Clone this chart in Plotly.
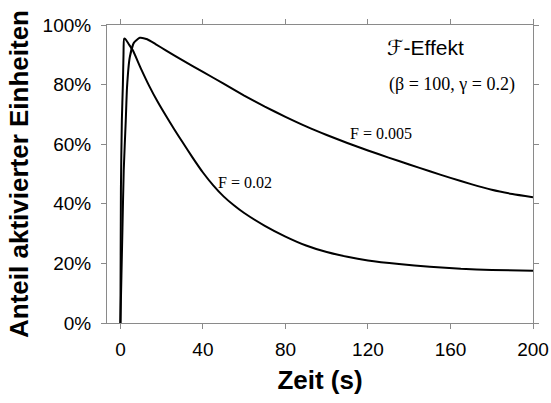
import plotly.graph_objects as go

# Data (time in s, share in %)
t_f002 = [0, 0.25, 0.7, 1.2, 1.5, 1.8, 2.4, 4, 6, 10, 14, 18, 22, 26, 30, 35, 40, 45, 50, 55, 60, 70,
          80, 90, 100, 110, 120, 135, 150, 165, 180, 200]
y_f002 = [0, 45, 68, 80, 90, 95.4, 95.3, 93.6, 91.5, 85.3, 79.5, 74.3, 69.6, 65.1, 60.8, 55.5, 50.5, 46.2,
          42.5, 39.5, 36.9, 32.6, 29.0, 26.0, 23.8, 22.2, 21.0, 19.8, 18.9, 18.2, 17.8, 17.5]

t_f0005 = [0, 0.5, 1.0, 1.6, 2.6, 3.2, 4.5, 6.5, 9.4, 13, 17, 22, 30, 40, 50, 60, 70, 80, 90, 100, 110,
           120, 130, 140, 150, 160, 170, 180, 190, 200]
y_f0005 = [0, 16, 32, 51, 68, 79, 89, 94, 95.7, 95.2, 93.6, 91.5, 88.2, 84.3, 80.3, 76.3, 72.6, 69.2,
           66.0, 63.1, 60.4, 57.9, 55.5, 53.2, 50.9, 48.7, 46.6, 44.7, 43.3, 42.2]

x_ticks = [0, 40, 80, 120, 160, 200]
y_ticks = [0, 20, 40, 60, 80, 100]

labels = ["F = 0.02", "F = 0.005"]
label_x = [60.3, 126.4]
label_y = [47.0, 63.5]

fig = go.Figure()
fig.add_trace(go.Scatter(x=t_f002, y=y_f002, mode="lines",
                         line=dict(color="black", width=2, shape="spline", smoothing=0.5),
                         showlegend=False, hoverinfo="skip"))
fig.add_trace(go.Scatter(x=t_f0005, y=y_f0005, mode="lines",
                         line=dict(color="black", width=2, shape="spline", smoothing=0.5),
                         showlegend=False, hoverinfo="skip"))

serif = "Liberation Serif, Times New Roman, serif"
sans = "Liberation Sans, Arial, sans-serif"

for txt, x, y in zip(labels, label_x, label_y):
    fig.add_annotation(x=x, y=y, text=txt, showarrow=False, xref="x", yref="y",
                       font=dict(family=serif, size=16, color="black"))

fig.add_annotation(x=147.7, y=92.3, text="ℱ-Effekt", showarrow=False, xref="x", yref="y",
                   font=dict(family="Liberation Sans, DejaVu Sans, sans-serif", size=21, color="black"))
fig.add_annotation(x=160.6, y=79.9, text="(β = 100, γ = 0.2)", showarrow=False, xref="x", yref="y",
                   font=dict(family=serif, size=18, color="black"))

axis_common = dict(showgrid=False, zeroline=False, showline=True, linecolor="#8a8a8a", linewidth=1,
                   mirror="ticks", ticks="outside", ticklen=5, tickcolor="#8a8a8a", tickwidth=1,
                   automargin=False,
                   tickfont=dict(family=sans, size=19, color="black"))

fig.update_layout(
    width=551, height=403,
    margin=dict(l=107, r=18, t=25, b=80),
    paper_bgcolor="white", plot_bgcolor="white",
    xaxis=dict(range=[-6.5, 200], tickvals=x_ticks, ticktext=[str(v) for v in x_ticks],
               ticklabelstandoff=4,
               title=dict(text="<b>Zeit (s)</b>", font=dict(family=sans, size=26, color="black"), standoff=12),
               **axis_common),
    yaxis=dict(range=[0, 100], tickvals=y_ticks, ticktext=[f"{v}%" for v in y_ticks],
               ticklabelstandoff=6,
               title=dict(text="<b>Anteil aktivierter Einheiten</b>", font=dict(family=sans, size=26, color="black"), standoff=6),
               **axis_common),
)

fig.write_html("out.html")
